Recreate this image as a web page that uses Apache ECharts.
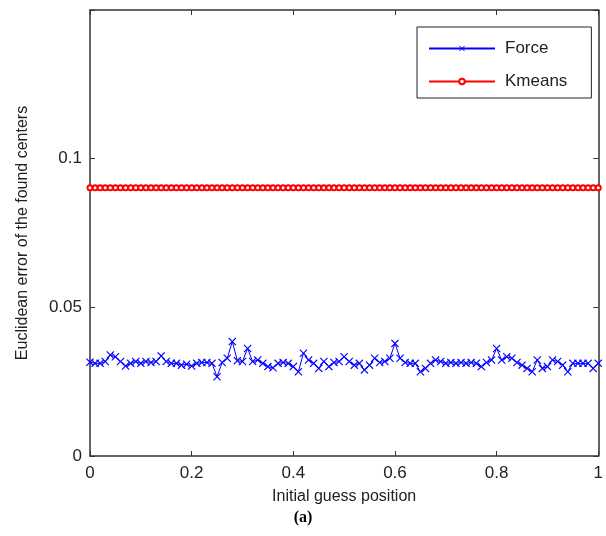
<!DOCTYPE html>
<html><head><meta charset="utf-8">
<script src="https://cdn.jsdelivr.net/npm/echarts@6/dist/echarts.min.js"></script>
<style>html,body{margin:0;padding:0;background:#fff}#c{width:606px;height:536px}</style>
</head><body><div id="c"></div>
<script>
const positions = [];
for (let i = 0; i <= 100; i++) positions.push(+(i / 100).toFixed(2));
const forceValues = [
0.0315,0.0311,0.0311,0.0317,0.0339,0.0333,0.0317,0.0302,0.0311,0.0317,
0.0311,0.0317,0.0314,0.0317,0.0336,0.0317,0.0311,0.0311,0.0305,0.0308,
0.0302,0.0311,0.0314,0.0314,0.0311,0.0266,0.0314,0.0328,0.0384,0.0320,
0.0317,0.0361,0.0317,0.0322,0.0311,0.0300,0.0296,0.0311,0.0314,0.0311,
0.0300,0.0283,0.0345,0.0322,0.0311,0.0294,0.0317,0.0300,0.0314,0.0317,
0.0333,0.0317,0.0305,0.0311,0.0289,0.0305,0.0328,0.0314,0.0317,0.0328,
0.0378,0.0328,0.0314,0.0311,0.0311,0.0283,0.0294,0.0311,0.0322,0.0317,
0.0311,0.0314,0.0311,0.0314,0.0311,0.0314,0.0311,0.0300,0.0314,0.0322,
0.0361,0.0322,0.0333,0.0328,0.0314,0.0305,0.0294,0.0283,0.0322,0.0294,
0.0300,0.0322,0.0317,0.0305,0.0283,0.0311,0.0311,0.0311,0.0311,0.0294,
0.0311];
const kmeansValues = positions.map(() => 0.09);
const seriesNames = ['Force', 'Kmeans'];
const xTicks = [0, 0.2, 0.4, 0.6, 0.8, 1];
const yTicks = [0, 0.05, 0.1];

const xMark = 'path://M0,1 L1,0 L5,4 L9,0 L10,1 L6,5 L10,9 L9,10 L5,6 L1,10 L0,9 L4,5 Z';
const font = 'Arial, "Liberation Sans", sans-serif';
const axisCol = '#333';
const chart = echarts.init(document.getElementById('c'), null, {renderer: 'canvas'});
const fmtX = v => xTicks.includes(+v.toFixed(2)) ? String(+v.toFixed(2)) : '';
const fmtY = v => yTicks.includes(+v.toFixed(3)) ? String(+v.toFixed(3)) : '';
const baseAxis = {
  axisLine: {show: true, onZero: false, lineStyle: {color: axisCol, width: 1.5}},
  axisTick: {show: true, inside: true, length: 5, lineStyle: {color: axisCol, width: 1}},
  splitLine: {show: false}
};
chart.setOption({
  animation: false,
  backgroundColor: '#fff',
  grid: {left: 90, right: 6, top: 10, bottom: 80, containLabel: false},
  xAxis: [
    Object.assign({type: 'value', min: 0, max: 1, interval: 0.2, position: 'bottom',
      name: 'Initial guess position', nameLocation: 'middle', nameGap: 33,
      nameTextStyle: {fontFamily: font, fontSize: 16, color: '#222'},
      axisLabel: {fontFamily: font, fontSize: 17, color: '#222', margin: 9, formatter: fmtX}}, baseAxis),
    Object.assign({type: 'value', min: 0, max: 1, interval: 0.2, position: 'top',
      axisLabel: {show: false}}, baseAxis)
  ],
  yAxis: [
    Object.assign({type: 'value', min: 0, max: 0.1497, interval: 0.05, position: 'left',
      name: 'Euclidean error of the found centers', nameLocation: 'middle', nameGap: 59,
      nameTextStyle: {fontFamily: font, fontSize: 16, color: '#222'},
      axisLabel: {fontFamily: font, fontSize: 17, color: '#222', margin: 8, formatter: fmtY}}, baseAxis),
    Object.assign({type: 'value', min: 0, max: 0.1497, interval: 0.05, position: 'right',
      axisLabel: {show: false}}, baseAxis)
  ],
  legend: {
    orient: 'vertical', left: 417, top: 27,
    data: seriesNames,
    backgroundColor: '#fff', borderColor: '#222', borderWidth: 1,
    padding: [13, 24, 8, 11], itemGap: 16, itemWidth: 66, itemHeight: 7,
    textStyle: {fontFamily: font, fontSize: 17, color: '#222', padding: [0, 0, 0, 5]}
  },
  graphic: [{
    type: 'text', left: 'center', top: 510,
    style: {text: '(a)', font: 'bold 16px "Liberation Serif", "Times New Roman", serif', fill: '#000'}
  }],
  series: [
    {name: seriesNames[0], type: 'line', data: positions.map((x, i) => [x, forceValues[i]]),
      symbol: xMark, symbolSize: 8, showAllSymbol: true,
      lineStyle: {color: '#0000ff', width: 1}, itemStyle: {color: '#0000ff'}},
    {name: seriesNames[1], type: 'line', data: positions.map((x, i) => [x, kmeansValues[i]]),
      symbol: 'emptyCircle', symbolSize: 5, showAllSymbol: true,
      lineStyle: {color: '#ff0000', width: 1}, itemStyle: {color: '#ff0000', borderWidth: 1}}
  ]
});
</script></body></html>
